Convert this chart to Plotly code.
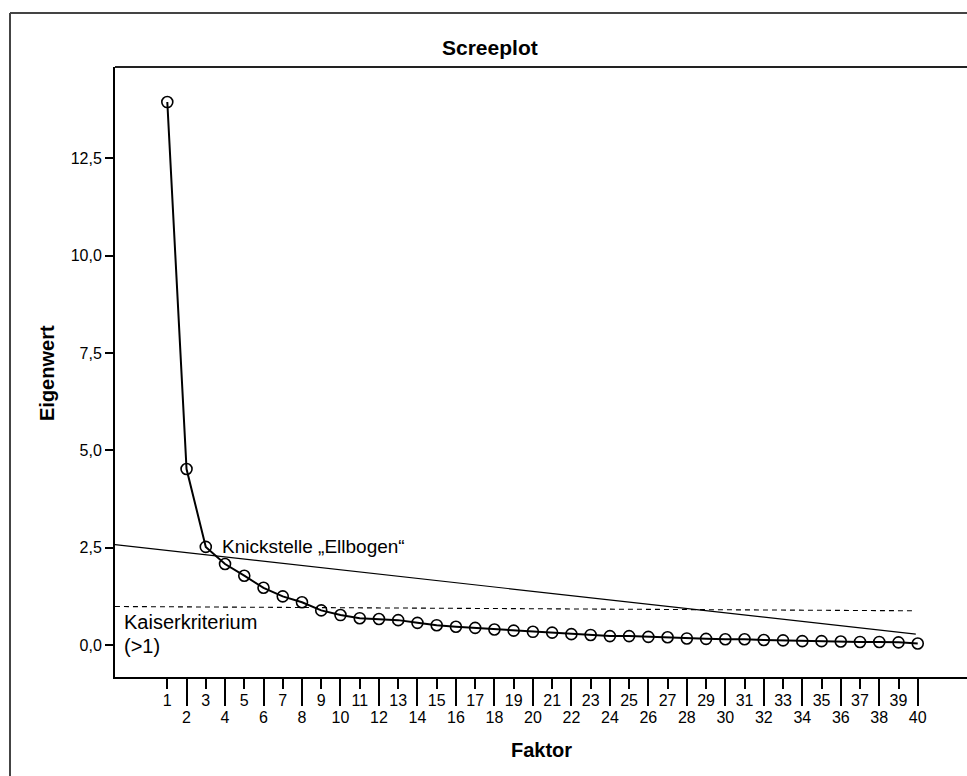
import plotly.graph_objects as go

# ---- data ----
factors = list(range(1, 41))
eigenvalues = [13.94, 4.52, 2.52, 2.08, 1.78, 1.47, 1.25, 1.10, 0.89, 0.77,
               0.69, 0.67, 0.64, 0.57, 0.51, 0.47, 0.44, 0.40, 0.37, 0.34,
               0.32, 0.28, 0.26, 0.23, 0.23, 0.21, 0.20, 0.17, 0.16, 0.15,
               0.15, 0.13, 0.12, 0.10, 0.10, 0.09, 0.08, 0.08, 0.07, 0.04]
elbow_x = [-1.72, 39.9]
elbow_y = [2.58, 0.28]
kaiser_x = [-1.72, 39.8]
kaiser_y = [0.99, 0.88]
odd_ticks = list(range(1, 41, 2))
even_ticks = list(range(2, 41, 2))
y_ticks = [0.0, 2.5, 5.0, 7.5, 10.0, 12.5]

X_RANGE = [-1.718, 42.56]
Y_RANGE = [-0.82, 14.84]
FONT = "Liberation Sans, Arial, sans-serif"

fig = go.Figure()

fig.add_trace(go.Scatter(x=elbow_x, y=elbow_y, mode="lines",
                         line=dict(color="black", width=1.2),
                         hoverinfo="skip", showlegend=False))
fig.add_trace(go.Scatter(x=kaiser_x, y=kaiser_y, mode="lines",
                         line=dict(color="black", width=1.1, dash="5px,4px"),
                         hoverinfo="skip", showlegend=False))
fig.add_trace(go.Scatter(x=factors, y=eigenvalues, mode="lines+markers",
                         line=dict(color="black", width=2),
                         marker=dict(symbol="circle-open", size=11,
                                     color="black", line=dict(width=1.6)),
                         showlegend=False))
# helper trace so the second (even-tick) x axis is drawn
fig.add_trace(go.Scatter(x=even_ticks, y=[None] * len(even_ticks),
                         xaxis="x2", yaxis="y", mode="markers",
                         hoverinfo="skip", showlegend=False))

W, H = 967, 776
L, R, T, B = 115, 0, 67, 99
PW, PH = W - L - R, H - T - B


def px_to_paper_x(px):
    return (px - L) / PW


def px_to_paper_y(py):
    return (H - B - py) / PH


fig.update_layout(
    width=W, height=H,
    margin=dict(l=L, r=R, t=T, b=B, pad=0),
    paper_bgcolor="white", plot_bgcolor="white",
    separators=",.",
    font=dict(family=FONT, color="black", size=16),
    xaxis=dict(range=X_RANGE, tickmode="array", tickvals=odd_ticks,
               ticktext=[str(v) for v in odd_ticks],
               ticks="outside", ticklen=10, tickwidth=2, tickcolor="black",
               tickfont=dict(size=16, family=FONT), ticklabelstandoff=-2,
               showline=True, linewidth=2, linecolor="black",
               showgrid=False, zeroline=False),
    xaxis2=dict(range=X_RANGE, overlaying="x", anchor="y", side="bottom",
                tickmode="array", tickvals=even_ticks,
                ticktext=[str(v) for v in even_ticks],
                ticks="outside", ticklen=28, tickwidth=2, tickcolor="black",
                tickfont=dict(size=16, family=FONT), ticklabelstandoff=-2,
                showline=False, showgrid=False, zeroline=False),
    yaxis=dict(range=Y_RANGE, tickmode="array", tickvals=y_ticks,
               tickformat=".1f", ticks="outside", ticklen=8, tickwidth=2,
               tickcolor="black", tickfont=dict(size=16, family=FONT),
               showline=True, linewidth=2, linecolor="black",
               showgrid=False, zeroline=False),
)

# frames: plot top line and outer frame (left + top)
fig.add_shape(type="line", xref="paper", yref="paper", x0=0, x1=1.01,
              y0=1, y1=1, line=dict(color="#222222", width=2))
ox = px_to_paper_x(10)
oy = px_to_paper_y(13)
fig.add_shape(type="line", xref="paper", yref="paper", x0=ox, x1=1.01,
              y0=oy, y1=oy, line=dict(color="#444444", width=2))
fig.add_shape(type="line", xref="paper", yref="paper", x0=ox, x1=ox,
              y0=oy, y1=px_to_paper_y(790), line=dict(color="#444444", width=2))

# titles
fig.add_annotation(text="<b>Screeplot</b>", xref="paper", yref="paper",
                   x=px_to_paper_x(490), y=px_to_paper_y(48),
                   xanchor="center", yanchor="middle", showarrow=False,
                   font=dict(size=21, family=FONT))
fig.add_annotation(text="<b>Eigenwert</b>", xref="paper", yref="paper",
                   x=px_to_paper_x(47), y=px_to_paper_y(373), textangle=-90,
                   xanchor="center", yanchor="middle", showarrow=False,
                   font=dict(size=20, family=FONT))
fig.add_annotation(text="<b>Faktor</b>", xref="paper", yref="paper",
                   x=px_to_paper_x(541), y=px_to_paper_y(750),
                   xanchor="center", yanchor="middle", showarrow=False,
                   font=dict(size=20, family=FONT))

# text labels
fig.add_annotation(text="Knickstelle „Ellbogen“", x=3.74, y=2.52,
                   xanchor="left", yanchor="middle", showarrow=False,
                   font=dict(size=19, family=FONT))
fig.add_annotation(text="Kaiserkriterium", x=-1.36, y=0.59,
                   xanchor="left", yanchor="middle", showarrow=False,
                   font=dict(size=20, family=FONT))
fig.add_annotation(text="(>1)", x=-1.36, y=-0.03,
                   xanchor="left", yanchor="middle", showarrow=False,
                   font=dict(size=20, family=FONT))

fig.write_html("out.html",
               config={"displayModeBar": False},
               post_script="document.body.style.margin='0';"
                           "document.body.style.overflow='hidden';")
